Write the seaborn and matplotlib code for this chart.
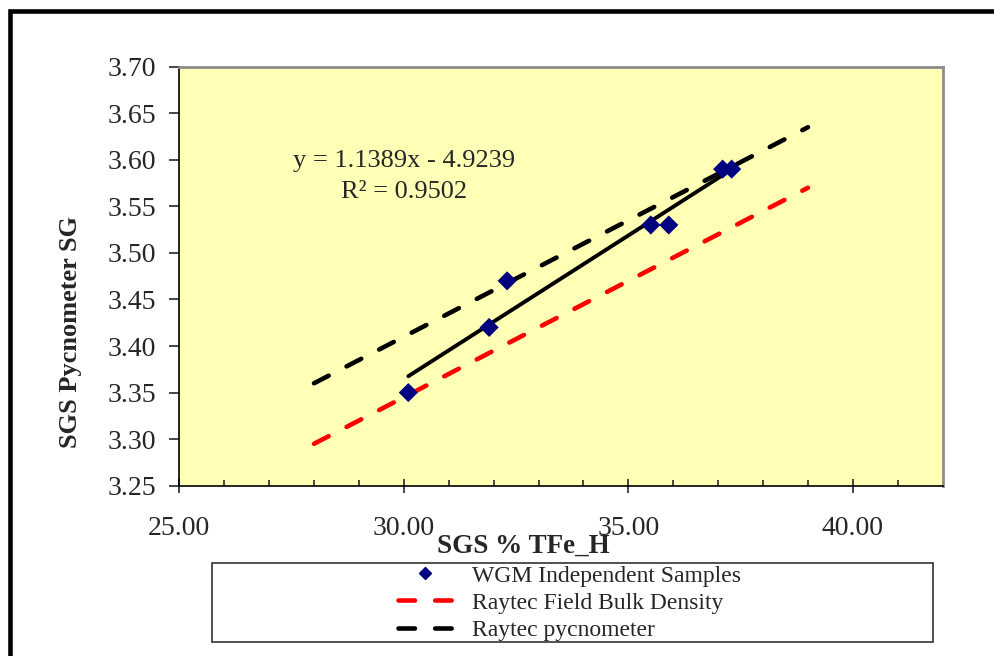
#SGS pycnometer SG vs SGS % TFe_H scatter plot

import numpy as np
import pandas as pd
import matplotlib.pyplot as plt
from matplotlib.lines import Line2D
from matplotlib.patches import Rectangle
import seaborn as sns


#WGM independent samples
tfe = [30.1, 31.9, 32.3, 35.5, 35.9, 37.1, 37.3]
sg = [3.35, 3.42, 3.47, 3.53, 3.53, 3.59, 3.59]

#Raytec reference lines
ref_x = [28, 39]
field_bulk = [3.295, 3.57]
raytec_pycno = [3.36, 3.635]

#text
eq_text = 'y = 1.1389x - 4.9239'
r2_text = 'R\u00b2 = 0.9502'
names = ['WGM Independent Samples', 'Raytec Field Bulk Density', 'Raytec pycnometer']
xticks = [25, 30, 35, 40]
yticks = [3.25, 3.30, 3.35, 3.40, 3.45, 3.50, 3.55, 3.60, 3.65, 3.70]

samples = pd.DataFrame({'tfe': tfe, 'sg': sg})
refs = pd.DataFrame({'x': ref_x, 'field': field_bulk, 'pyc': raytec_pycno})

sns.set_style("white")
plt.rcParams['font.family'] = ['Liberation Serif', 'DejaVu Serif']

fig = plt.figure(figsize=(9.95, 6.56), dpi=100)
ax = fig.add_axes([179.3/995, 1-485.7/656, 763.4/995, 419/656])
ax.set_facecolor('#FFFFB5')

dash = (3.6, 4.4)
sns.lineplot(data=refs, x='x', y='field', ax=ax, color='#FF0000', lw=3.3)
sns.lineplot(data=refs, x='x', y='pyc', ax=ax, color='black', lw=3.3)
for ln in ax.lines:
    ln.set_dashes(dash)
    ln.set_dash_capstyle('round')

sns.regplot(data=samples, x='tfe', y='sg', ax=ax, scatter=False, ci=None,
            truncate=True, line_kws={'color': 'black', 'lw': 2.8})
sns.scatterplot(data=samples, x='tfe', y='sg', ax=ax, marker='D', s=95,
                color='#000080', edgecolor='none', zorder=5)

ax.text(0.294, 0.775, eq_text, transform=ax.transAxes,
        ha='center', va='center', fontsize=19)
ax.text(0.294, 0.700, r2_text, transform=ax.transAxes,
        ha='center', va='center', fontsize=19)

ax.set_xlim(25, 42)
ax.set_ylim(3.25, 3.70)
ax.set_xticks(xticks)
ax.set_xticklabels(['%.2f' % v for v in xticks])
ax.set_xticks(np.arange(26, 42), minor=True)
ax.set_yticks(yticks)
ax.set_yticklabels(['%.2f' % v for v in yticks])
ax.tick_params(axis='x', which='major', direction='inout', length=10,
               width=1.2, labelsize=20, pad=17, bottom=True)
ax.tick_params(axis='x', which='minor', direction='in', length=4,
               width=1.2, bottom=True)
ax.tick_params(axis='y', direction='out', length=7, width=1.2,
               labelsize=20, pad=10, left=True)

for side in ['left', 'bottom']:
    ax.spines[side].set_color('black')
    ax.spines[side].set_linewidth(1.2)
for side in ['top', 'right']:
    ax.spines[side].set_color('#8C8C8C')
    ax.spines[side].set_linewidth(2)

ax.set_xlabel('SGS % TFe_H', fontsize=19.5, fontweight='bold', va='center')
ax.set_ylabel('SGS Pycnometer SG', fontsize=19, fontweight='bold',
              va='center')
ax.xaxis.set_label_coords(0.451, -0.144)
ax.yaxis.set_label_coords(-0.143, 0.366)

#legend
handles = [Line2D([], [], ls='none', marker='D', ms=6.5, color='#000080'),
           Line2D([], [], color='#FF0000', lw=3.3, dashes=dash,
                  dash_capstyle='round'),
           Line2D([], [], color='black', lw=3.3, dashes=dash,
                  dash_capstyle='round')]
fig.legend(handles, names, loc='upper left',
           bbox_to_anchor=(398/995, 1-565/656), frameon=False, fontsize=17,
           handlelength=2.3, handletextpad=0.85, labelspacing=0.24,
           borderpad=0, borderaxespad=0)
fig.patches.append(Rectangle((212/995, 1-642/656), 721/995, 79/656,
                             transform=fig.transFigure, fill=False,
                             edgecolor='#333333', lw=1.2))

#outer frame
fig.patches.append(Rectangle((10/995, -0.5), 2, 1.5-10.5/656,
                             transform=fig.transFigure, fill=False,
                             edgecolor='black', lw=3.3))

plt.savefig('out.png', dpi=100)
